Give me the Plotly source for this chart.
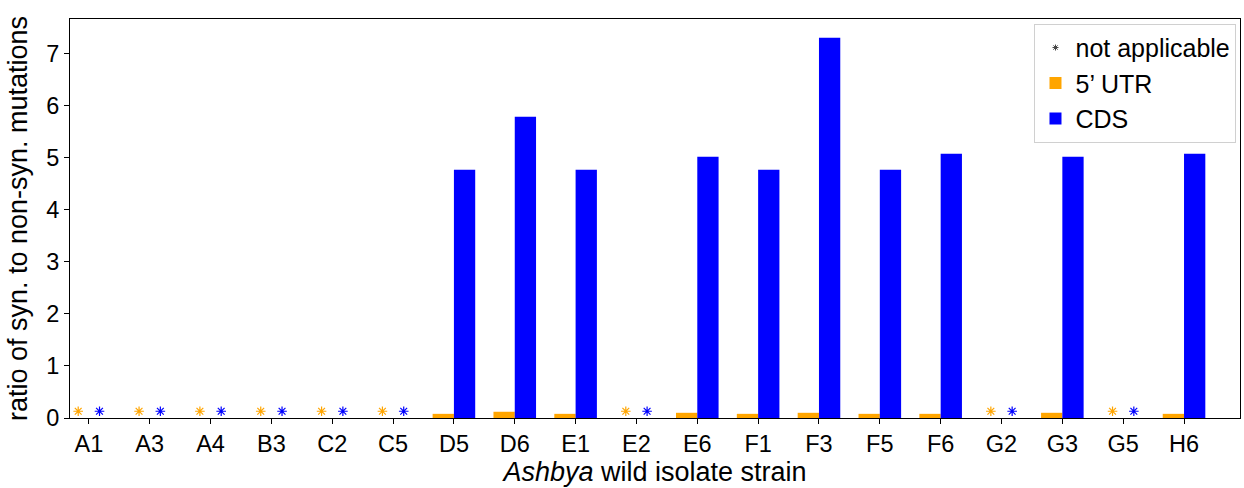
import numpy as np
import plotly.graph_objects as go

strains = ["A1", "A3", "A4", "B3", "C2", "C5", "D5", "D6", "E1", "E2",
           "E6", "F1", "F3", "F5", "F6", "G2", "G3", "G5", "H6"]
utr5 = [None, None, None, None, None, None, 0.08, 0.12, 0.08, None,
        0.10, 0.08, 0.10, 0.08, 0.08, None, 0.10, None, 0.08]
cds = [None, None, None, None, None, None, 4.77, 5.79, 4.77, None,
       5.02, 4.77, 7.31, 4.77, 5.08, None, 5.02, None, 5.08]
na_level = 0.13

ORANGE = "#FFA500"
BLUE = "#0000FF"
W = 0.35

idx = np.arange(len(strains))
x_utr = idx - W / 2
x_cds = idx + W / 2

fig = go.Figure()

# legend-only entry for "not applicable"
fig.add_trace(go.Scatter(
    x=[None], y=[None], mode="markers", name="not applicable",
    marker=dict(symbol="asterisk-open", size=5, color="#444444",
                line=dict(width=1, color="#444444")),
))
fig.add_trace(go.Bar(x=x_utr, y=utr5, width=W, name="5\u2019 UTR",
                     marker=dict(color=ORANGE, line=dict(width=0))))
fig.add_trace(go.Bar(x=x_cds, y=cds, width=W, name="CDS",
                     marker=dict(color=BLUE, line=dict(width=0))))

na_u = [x for x, v in zip(x_utr, utr5) if v is None]
na_c = [x for x, v in zip(x_cds, cds) if v is None]
fig.add_trace(go.Scatter(
    x=na_u, y=[na_level] * len(na_u), mode="markers", showlegend=False,
    marker=dict(symbol="asterisk-open", size=8, color=ORANGE,
                line=dict(width=1.2, color=ORANGE)),
))
fig.add_trace(go.Scatter(
    x=na_c, y=[na_level] * len(na_c), mode="markers", showlegend=False,
    marker=dict(symbol="asterisk-open", size=8, color=BLUE,
                line=dict(width=1.2, color=BLUE)),
))

FONT = "Liberation Sans, Arial, Helvetica, sans-serif"
fig.update_layout(
    width=1244, height=488,
    margin=dict(l=70, r=4, t=19, b=70),
    plot_bgcolor="white", paper_bgcolor="white",
    font=dict(family=FONT, size=23, color="black"),
    barmode="overlay",
    legend=dict(x=0.997, y=0.988, xanchor="right", yanchor="top",
                bgcolor="white", bordercolor="#D0D0D0", borderwidth=1,
                font=dict(size=25), traceorder="normal",
                itemsizing="trace", tracegroupgap=0, itemwidth=30),
)
fig.update_xaxes(
    range=[-0.31, 18.92], tickmode="array", tickvals=idx.tolist(),
    ticktext=strains, ticks="outside", ticklen=5, tickcolor="black",
    showline=True, linecolor="black", linewidth=1, mirror=True,
    showgrid=False, zeroline=False,
    title=dict(text="<i>Ashbya</i> wild isolate strain", font=dict(size=27),
               standoff=0),
    tickfont=dict(size=23.5),
)
fig.update_yaxes(
    range=[0, 7.67], tickmode="array", tickvals=list(range(8)),
    ticks="outside", ticklen=5, tickcolor="black",
    showline=True, linecolor="black", linewidth=1, mirror=True,
    showgrid=False, zeroline=False,
    title=dict(text="ratio of syn. to non-syn. mutations", font=dict(size=27),
               standoff=10),
    tickfont=dict(size=23.5),
)

fig.write_html("out.html")
